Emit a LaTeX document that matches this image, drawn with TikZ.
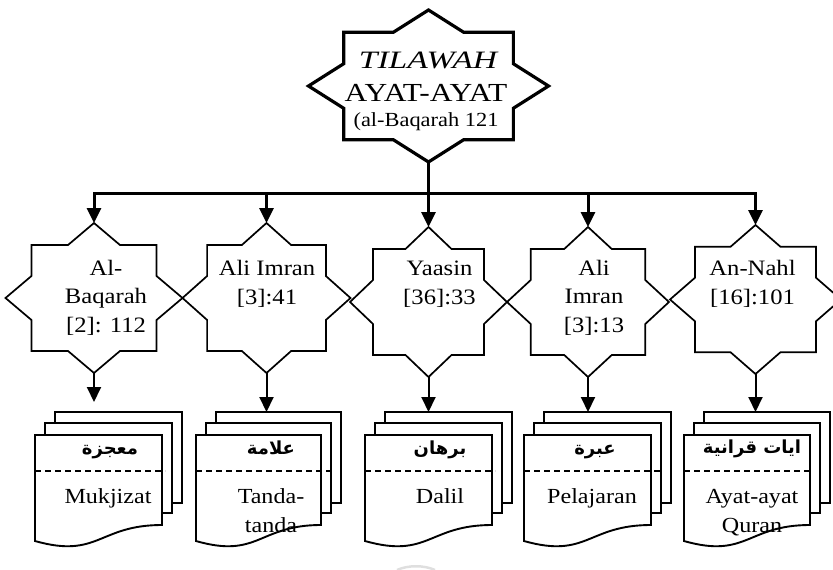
\documentclass[tikz,border=0pt]{standalone}
\usepackage{fontspec}
\usepackage{graphicx}
\setmainfont{Liberation Serif}[FakeStretch=1.12]
\newfontfamily\arabicfont[Script=Arabic]{DejaVu Sans}
\TeXXeTstate=1
\usetikzlibrary{arrows.meta}

\tikzset{
  % eight-pointed star: square plus diamond, outer radii #1 (x) and #2 (y)
  pics/octastar/.style 2 args={code={
    \pgfmathsetmacro\stA{#1/sqrt(2)}
    \pgfmathsetmacro\stB{#2/sqrt(2)}
    \pgfmathsetmacro\stAt{\stA*0.41421}
    \pgfmathsetmacro\stBt{\stB*0.41421}
    \path[draw, fill=white] (0,-#2) -- (\stAt,-\stB) -- (\stA,-\stB) -- (\stA,-\stBt)
      -- (#1,0) -- (\stA,\stBt) -- (\stA,\stB) -- (\stAt,\stB) -- (0,#2)
      -- (-\stAt,\stB) -- (-\stA,\stB) -- (-\stA,\stBt) -- (-#1,0)
      -- (-\stA,-\stBt) -- (-\stA,-\stB) -- (-\stAt,-\stB) -- cycle;
    \coordinate (-n) at (0,-#2);
    \coordinate (-s) at (0,#2);
  }},
  % stacked documents: front width #1, dashed rule running #2 past the right edge
  pics/multidoc/.style 2 args={code={
    \path[draw, fill=white] (20,-23) rectangle ++(#1,91);
    \path[draw, fill=white] (10,-12) rectangle ++(#1,90);
    \path[draw, fill=white] (0,0) -- (#1,0) -- (#1,90)
      .. controls ({#1/2},90) and ({#1/2},124) .. (0,106) -- cycle;
    \draw[rulepattern] (0,36) -- ({#1+#2},36);
    \coordinate (-top) at (20,-23);
  }},
  bigstar/.style={line width=3.2pt},
  smallstar/.style={line width=1.7pt},
  docline/.style={line width=1.9pt},
  rulepattern/.style={line width=1.8pt, dash pattern=on 6pt off 4pt},
  barline/.style={line width=3pt},
  bararrow/.style={line width=3pt, -{Triangle[width=14pt,length=15pt]}},
  docarrow/.style={line width=2pt, -{Triangle[width=14pt,length=15pt]}},
  % multi-line labels are placed by the baseline of their last line
  starlabel/.style={anchor=base, align=center, inner sep=0pt,
    font=\fontsize{22}{28.5}\selectfont},
  doclabel/.style={anchor=base, align=center, inner sep=0pt,
    font=\fontsize{21.5}{29}\selectfont},
  arlabel/.style={anchor=base, inner sep=0pt,
    font=\arabicfont\bfseries\fontsize{18}{22}\selectfont},
}

\begin{document}
\begin{tikzpicture}[x=1pt, y=-1pt]
\useasboundingbox (0,0) rectangle (833,570);

% main star
\pic[bigstar] (top) at (428.5,86) {octastar={120}{76}};
\node[anchor=base, inner sep=0pt, font=\fontsize{25}{30}\selectfont\itshape] (t1) at (428,68) {\scalebox{1.2}[1]{TILAWAH}};
\node[anchor=base, inner sep=0pt, font=\fontsize{26}{30}\selectfont] (t2) at (426,101) {\scalebox{1.08}[1]{AYAT-AYAT}};
\node[anchor=base, inner sep=0pt, font=\fontsize{20}{26}\selectfont] (t3) at (426,126) {(al-Baqarah 121};

% row of verse stars
\pic[smallstar] (s1) at (94,298) {octastar={88.5}{75}};
\pic[smallstar] (s2) at (266.5,298) {octastar={84}{75}};
\pic[smallstar] (s3) at (428.5,302) {octastar={78.5}{75}};
\pic[smallstar] (s4) at (588,302) {octastar={81}{75}};
\pic[smallstar] (s5) at (755.5,299.5) {octastar={85.5}{74.5}};

\node[starlabel] (l1) at (106,332) {Al-\\Baqarah\\{[2]: 112}};
\node[starlabel] (l2) at (267,304) {Ali Imran\\{[3]:41}};
\node[starlabel] (l3) at (439.5,304) {Yaasin\\{[36]:33}};
\node[starlabel] (l4) at (594,332) {Ali\\Imran\\{[3]:13}};
\node[starlabel] (l5) at (752.5,304) {An-Nahl\\{[16]:101}};

% branching bar
\coordinate (bar) at (428.5,193);
\draw[barline] (top-s) -- (bar);
\draw[barline, line cap=rect] (s1-n |- bar) -- (s5-n |- bar);
\foreach \k in {1,...,5}
  \draw[bararrow] (s\k-n |- bar) -- (s\k-n);

% stacked documents
\pic[docline] (d1) at (35,435) {multidoc={127}{3}};
\pic[docline] (d2) at (196,435) {multidoc={125}{12}};
\pic[docline] (d3) at (365,435) {multidoc={127}{3}};
\pic[docline] (d4) at (524,435) {multidoc={127}{9}};
\pic[docline] (d5) at (684,435) {multidoc={126}{3}};

\coordinate (stop1) at (94,402);
\draw[docarrow] (s1-s) -- (stop1);
\foreach \k in {2,...,5}
  \draw[docarrow] (s\k-s) -- (s\k-s |- d\k-top);

\node[arlabel] (a1) at (110,454) {\beginR معجزة\endR};
\node[arlabel] (a2) at (271,454) {\beginR علامة\endR};
\node[arlabel] (a3) at (440,454) {\beginR برهان\endR};
\node[arlabel] (a4) at (595,454) {\beginR عبرة\endR};
\node[arlabel] (a5) at (752,453) {\beginR ايات قرانية\endR};

\node[doclabel] (e1) at (108,503) {Mukjizat};
\node[doclabel] (e2) at (271,532) {Tanda-\\tanda};
\node[doclabel] (e3) at (440,503) {Dalil};
\node[doclabel] (e4) at (592,503) {Pelajaran};
\node[doclabel] (e5) at (752,532) {Ayat-ayat\\Quran};

% faint stroke at the lower edge
\draw[gray!25, line width=2.5pt] (397,570) .. controls (408,565) and (424,565) .. (435,570);
\end{tikzpicture}
\end{document}
